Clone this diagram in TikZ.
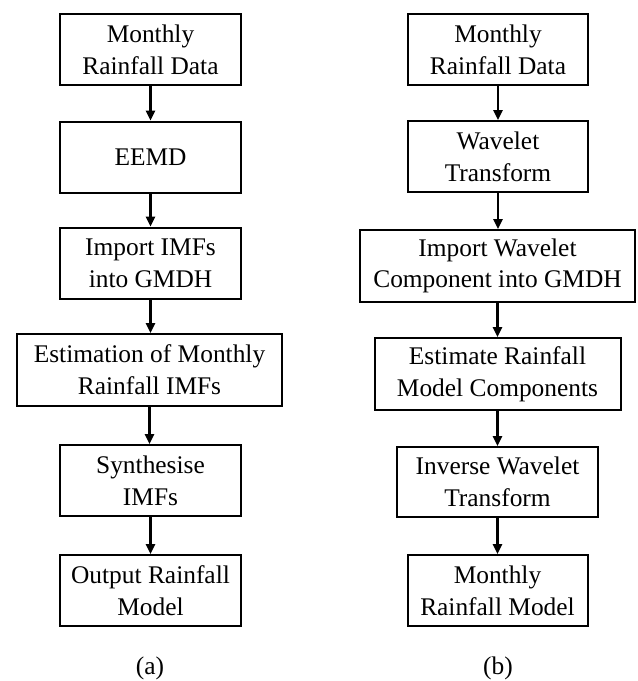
\documentclass[tikz,border=0pt]{standalone}
\usepackage{fontspec}
\setmainfont{Liberation Serif}
\usetikzlibrary{arrows.meta}
\begin{document}
\begin{tikzpicture}[x=1pt,y=-1pt,
  box/.style={draw,line width=2pt,align=center,inner sep=0pt,
    font=\fontsize{25.4pt}{31.7pt}\selectfont},
  flow/.style={line width=2.4pt,-{Triangle[length=10pt,width=9pt]}},
  caplabel/.style={font=\fontsize{25.4pt}{31.7pt}\selectfont}]
\useasboundingbox (0,0) rectangle (638,681);
% left column
\node[box,minimum width=181pt,minimum height=71pt] (L1) at (150.5,49.5) {Monthly\\Rainfall Data};
\node[box,minimum width=181pt,minimum height=71pt] (L2) at (150.5,157) {EEMD};
\node[box,minimum width=181pt,minimum height=71pt] (L3) at (150.5,263) {Import IMFs\\into GMDH};
\node[box,minimum width=265pt,minimum height=72pt] (L4) at (149.5,370) {Estimation of Monthly\\Rainfall IMFs};
\node[box,minimum width=181pt,minimum height=71pt] (L5) at (150.5,480.5) {Synthesise\\IMFs};
\node[box,minimum width=181pt,minimum height=71pt] (L6) at (150.5,590.5) {Output Rainfall\\Model};
\node[caplabel] (La) at (150,668) {(a)};
% right column
\node[box,minimum width=180pt,minimum height=71pt] (R1) at (498,49.5) {Monthly\\Rainfall Data};
\node[box,minimum width=180pt,minimum height=71pt] (R2) at (498,156.5) {Wavelet\\Transform};
\node[box,minimum width=275pt,minimum height=72pt] (R3) at (497.5,266) {Import Wavelet\\Component into GMDH};
\node[box,minimum width=246pt,minimum height=72pt] (R4) at (497.5,374) {Estimate Rainfall\\Model Components};
\node[box,minimum width=201pt,minimum height=70pt] (R5) at (497.5,482) {Inverse Wavelet\\Transform};
\node[box,minimum width=180pt,minimum height=71pt] (R6) at (497.5,590.5) {Monthly\\Rainfall Model};
\node[caplabel] (Rb) at (498,668) {(b)};
% connectors
\foreach \a/\b in {L1/L2,L2/L3,L3/L4,L4/L5,L5/L6,R1/R2,R2/R3,R3/R4,R4/R5,R5/R6}
  \draw[flow] (\a.south) -- (\a.south |- \b.north);
\end{tikzpicture}
\end{document}
